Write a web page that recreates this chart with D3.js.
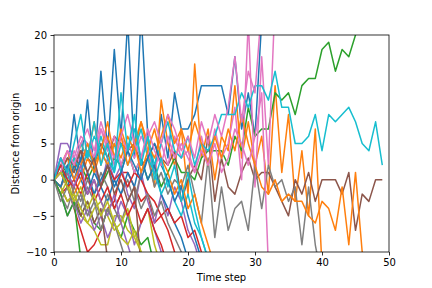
<!DOCTYPE html>
<html><head><meta charset="utf-8">
<script src="https://cdn.jsdelivr.net/npm/d3@7"></script>
<style>body{margin:0;background:#fff}svg{display:block}text{font-family:"DejaVu Sans",sans-serif}</style>
</head><body>
<script>
const xTicks = [0, 10, 20, 30, 40, 50];
const yTicks = [-10, -5, 0, 5, 10, 15, 20];
const colors = ["#1f77b4","#ff7f0e","#2ca02c","#d62728","#9467bd","#8c564b","#e377c2","#7f7f7f","#bcbd22","#17becf"];

const blueA   = [0,3,1,9,2,11,1,15,4,18,6,22,3,23,6,1,9,3,12,7,7,9,13,13,13,13,9,17,7,12,6,22,25];
const orangeA = [0,2,4,1,5,3,8,2,6,3,7,4,5,8,4,-1,11,5,2,7,-2,16,3,7,0,6,4,13,3,8,2,6,-2,13,1,9,-3,4,-5,7,-12];
const greenA  = [0,2,1,3,2,0,2,-1,1,3,2,4,1,3,0,2,-1,1,3,1,1,0,3,4,4,4,2,6,4,10,6,7,7,12,11,12,9,13,14,14,18,19,15,18,17,20,22,23,25,26];
const redA    = [0,-2,-1,-4,-7,-10,-9,-7,-4,-3,1,1,-1,-3,-2,-6,-5,-7,-10,-12];
const purpleA = [0,5,5,3,1,4,2,-1,3,0,2,-2,-4,1,-3,-6,-2,-5,-1,-3,-7,-9,-12];
const brownA  = [0,-1,2,1,4,3,2,5,3,6,5,4,5,2,3,5,3,2,4,-3,0,2,0,6,-3,3,-1,-2,1,3,0,1,1,-1,-3,-5,0,-2,1,-3,0,0,0,-2,1,-7,-2,-3,0,0];
const pinkA   = [0,2,4,3,6,5,3,7,4,6,2,5,3,6,4,1,5,2,6,3,4,1,6,2,7,3,5,10,0,22,-1,17,2,25];
const grayA   = [0,-2,-4,-1,-3,0,-2,1,-1,-4,-2,0,-3,1,3,-1,1,-2,0,-1,2,-2,-6,3,-8,-1,-7,-4,-3,-7,2,-4,2,-1,0,-3,-1,-9,-1,-9,-14];
const oliveA  = [0,-2,0,-3,-5,-6,-7,-9,-9,-5,-5,-7,-8,-6,-4,-9,-12];
const cyanA   = [0,1,3,2,5,3,6,4,2,5,1,4,7,3,6,2,5,8,4,3,6,2,5,4,6,9,9,9,12,10,13,13,11,15,10,10,5,5,6,9,4,9,8,9,10,8,5,4,8,2];

const blueB   = [0,1,-1,2,0,-2,1,-1,-3,0,-2,1,-1,3,0,2,-2,-4,-6,-8,-11];
const orangeB = [0,-1,1,-2,0,3,1,4,2,5,3,6,4,8,5,3,6,9,5,7,4,8,5,2,6,3,7,4,9,5,2,-1,-2,0,-3,-2,-3,-3,-5,-6,-3,-4,-7,-1,-9,1,-10,-13];
const greenB  = [0,2,-1,-3,-5,-3,-6,-7,-4,-6,-8,-5,-7,-9,-8,-12];
const redB    = [0,1,-1,0,-2,1,-3,-1,2,0,1,-1,1,0,-2,-3,-5,-4,-6,-5,-8,-7,-10,-12];
const purpleB = [0,-2,-5,-3,-6,-4,-7,-5,-8,-6,-3,-5,-9,-6,-4,-7,-10,-12];
const brownB  = [0,-1,-3,-2,-5,-3,-6,-4,-11];
const pinkB   = [0,3,1,4,2,5,3,7,5,2,6,4,1,3,6,8,5,9,7,4,6,3,8,5,9,6,10,17,8,15,12,24];
const grayB   = [0,-1,1,-2,-4,-1,-3,-5,-2,-4,-6,-3,-1,-4,-2,-5,-3,-6,-8,-10,-13];
const oliveB  = [0,-1,-3,-2,-4,-6,-4,-3,-5,-7,-6,-4,-8,-10,-12];
const cyanB   = [0,2,0,3,1,4,2,6,3,1,5,2,4,7,3,1,-2,0,-3,-5,-2,-6,-8,-11];

const blueC   = [0,-1,2,0,3,1,-2,0,2,-1,1,4,2,0,3,5,2,0,-3,-1,-5,-8,-11];
const orangeC = [0,1,3,0,2,5,2,4,8,3,6,2,5,1,4,7,3,1,-2,0,-4,-2,-6,-9,-12];
const greenC  = [0,-2,-5,-3,-11];
const redC    = [0,2,0,-1,1,-2,0,-3,-1,-4,-2,-5,-3,-6,-4,-7,-9,-12];
const purpleC = [0,3,1,-1,2,-2,0,-3,-5,-2,-6,-9,-12];
const brownC  = [0,1,3,2,4,1,3,-1,2,-2,0,-3,-1,-12];
const pinkC   = [0,1,4,2,5,7,4,8,5,3,6,9,5,3,7,4,2,6,3,5,3,1,4,2,5,1,3,7,5,2,6,12,-12];
const grayC   = [0,-3,-1,-4,-2,-5,-3,-7,-4,-6,-9,-12];
const oliveC  = [0,1,-1,-3,-1,-4,-2,-5,-3,-6,-8,-9,-7,-10,-12];
const cyanC   = [0,3,1,5,9,3,8,2,5,1,12,4,9,2,6,0,3,-1,2,-3,1,-4,-8,-11];

const series = [blueA,orangeA,greenA,redA,purpleA,brownA,pinkA,grayA,oliveA,cyanA,
                blueB,orangeB,greenB,redB,purpleB,brownB,pinkB,grayB,oliveB,cyanB,
                blueC,orangeC,greenC,redC,purpleC,brownC,pinkC,grayC,oliveC,cyanC];

const W = 432, H = 288;
const m = {l:54, r:43, t:35, b:36};
const svg = d3.select("body").append("svg").attr("width", W).attr("height", H);
const x = d3.scaleLinear().domain([0, 50]).range([m.l, W - m.r]);
const y = d3.scaleLinear().domain([-10, 20]).range([H - m.b, m.t]);

svg.append("clipPath").attr("id","clip").append("rect")
  .attr("x", m.l).attr("y", m.t).attr("width", W - m.l - m.r).attr("height", H - m.t - m.b);

const line = d3.line().x((d,i) => x(i)).y(d => y(d));
const g = svg.append("g").attr("clip-path","url(#clip)");
series.forEach((s, k) => {
  g.append("path").attr("d", line(s)).attr("fill","none")
   .attr("stroke", colors[k % 10]).attr("stroke-width", 1.5)
   .attr("stroke-linejoin","round").attr("stroke-linecap","butt");
});

const xa = svg.append("g").attr("transform", `translate(0,${H - m.b})`)
  .call(d3.axisBottom(x).tickValues(xTicks).tickSize(3.5).tickPadding(3.5).tickFormat(d3.format("d")));
const ya = svg.append("g").attr("transform", `translate(${m.l},0)`)
  .call(d3.axisLeft(y).tickValues(yTicks).tickSize(3.5).tickPadding(3.5).tickFormat(d3.format("d")));
[xa, ya].forEach(a => {
  a.select(".domain").remove();
  a.selectAll("line").attr("stroke","#000").attr("stroke-width",0.8);
  a.selectAll("text").attr("font-size",10).attr("fill","#000").attr("font-family","DejaVu Sans");
});
svg.append("rect").attr("x", m.l).attr("y", m.t).attr("width", W - m.l - m.r).attr("height", H - m.t - m.b)
  .attr("fill","none").attr("stroke","#000").attr("stroke-width",0.8);

svg.append("text").attr("x", (m.l + W - m.r)/2).attr("y", 281).attr("text-anchor","middle")
  .attr("font-size",10).text("Time step");
svg.append("text").attr("transform", `translate(19,${(m.t + H - m.b)/2}) rotate(-90)`)
  .attr("text-anchor","middle").attr("font-size",10).text("Distance from origin");
</script>
</body></html>
